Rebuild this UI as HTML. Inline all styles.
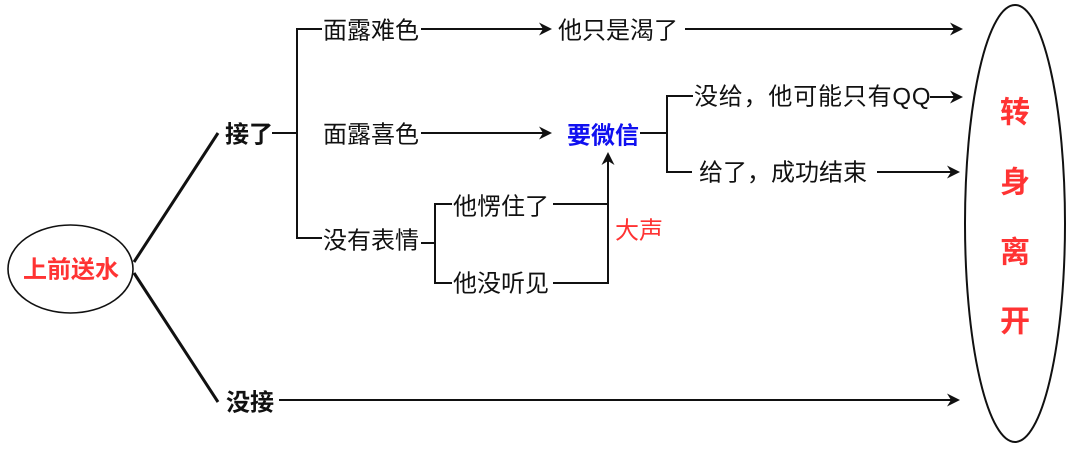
<!DOCTYPE html>
<html><head><meta charset="utf-8">
<style>
html,body{margin:0;padding:0;background:#fff;}
svg{display:block;}
text{font-family:"Liberation Sans","Noto Sans CJK SC",sans-serif;font-size:24px;fill:#111;dominant-baseline:central;}
.b{font-weight:bold;}
.r{fill:#f33;}
.bl{fill:#1010f0;}
</style></head>
<body>
<svg width="1080" height="451" viewBox="0 0 1080 451" xmlns="http://www.w3.org/2000/svg">
<rect width="1080" height="451" fill="#fff"/>
<!-- left ellipse -->
<ellipse cx="70.5" cy="269" rx="62.5" ry="44" fill="none" stroke="#111" stroke-width="1.6"/>
<text x="71" y="270" class="b r" text-anchor="middle">上前送水</text>
<!-- diagonals -->
<line x1="134" y1="262" x2="218" y2="133" stroke="#111" stroke-width="3"/>
<line x1="134" y1="273" x2="218" y2="402" stroke="#111" stroke-width="3"/>
<text x="225" y="135" class="b">接了</text>
<text x="226" y="403" class="b">没接</text>

<g stroke="#111" stroke-width="2" fill="none">
<!-- 接了 bracket -->
<line x1="272" y1="133" x2="297" y2="133"/>
<line x1="297" y1="28" x2="297" y2="239"/>
<line x1="296" y1="29" x2="322" y2="29"/>
<line x1="296" y1="238" x2="322" y2="238"/>
<!-- arrows to 他只是渴了 / 要微信 -->
<line x1="421" y1="29" x2="545" y2="29"/>
<line x1="421" y1="133" x2="545" y2="133"/>
<line x1="685" y1="29" x2="956" y2="29"/>
<!-- 没有表情 bracket -->
<line x1="421" y1="243" x2="435" y2="243"/>
<line x1="435" y1="203" x2="435" y2="284"/>
<line x1="434" y1="204" x2="452" y2="204"/>
<line x1="434" y1="283" x2="452" y2="283"/>
<line x1="553" y1="204" x2="608" y2="204"/>
<line x1="553" y1="283" x2="609" y2="283"/>
<line x1="608" y1="284" x2="608" y2="160"/>
<!-- 要微信 bracket -->
<line x1="640" y1="133" x2="667" y2="133"/>
<line x1="667" y1="95" x2="667" y2="173"/>
<line x1="666" y1="96" x2="693" y2="96"/>
<line x1="666" y1="172" x2="692" y2="172"/>
<line x1="930" y1="97" x2="956" y2="97"/>
<line x1="877" y1="172" x2="953" y2="172"/>
<line x1="279" y1="400" x2="953" y2="400"/>
</g>
<!-- arrowheads -->
<g fill="#111">
<path d="M552 29 L539 22.5 L543 29 L539 35.5 Z"/>
<path d="M552 133 L539 126.5 L543 133 L539 139.5 Z"/>
<path d="M963 29 L950 22.5 L954 29 L950 35.5 Z"/>
<path d="M963 97 L950 90.5 L954 97 L950 103.5 Z"/>
<path d="M960 172 L947 165.5 L951 172 L947 178.5 Z"/>
<path d="M960 400 L947 393.5 L951 400 L947 406.5 Z"/>
<path d="M608 152 L601.5 165 L608 161 L614.5 165 Z"/>
</g>

<text x="323" y="31">面露难色</text>
<text x="323" y="135">面露喜色</text>
<text x="323" y="241">没有表情</text>
<text x="558" y="31">他只是渴了</text>
<text x="567" y="136" class="b bl">要微信</text>
<text x="453" y="207">他愣住了</text>
<text x="453" y="284">他没听见</text>
<text x="615" y="231" class="r">大声</text>
<text x="694" y="97" style="letter-spacing:0.8px">没给，他可能只有QQ</text>
<text x="699" y="173">给了，成功结束</text>

<!-- right ellipse -->
<ellipse cx="1015" cy="223.5" rx="50" ry="218.5" fill="none" stroke="#111" stroke-width="2"/>
<text x="1015" y="113" class="b r" text-anchor="middle" style="font-size:30px">转</text>
<text x="1015" y="183" class="b r" text-anchor="middle" style="font-size:30px">身</text>
<text x="1015" y="253" class="b r" text-anchor="middle" style="font-size:30px">离</text>
<text x="1015" y="322" class="b r" text-anchor="middle" style="font-size:30px">开</text>
</svg>
</body></html>
